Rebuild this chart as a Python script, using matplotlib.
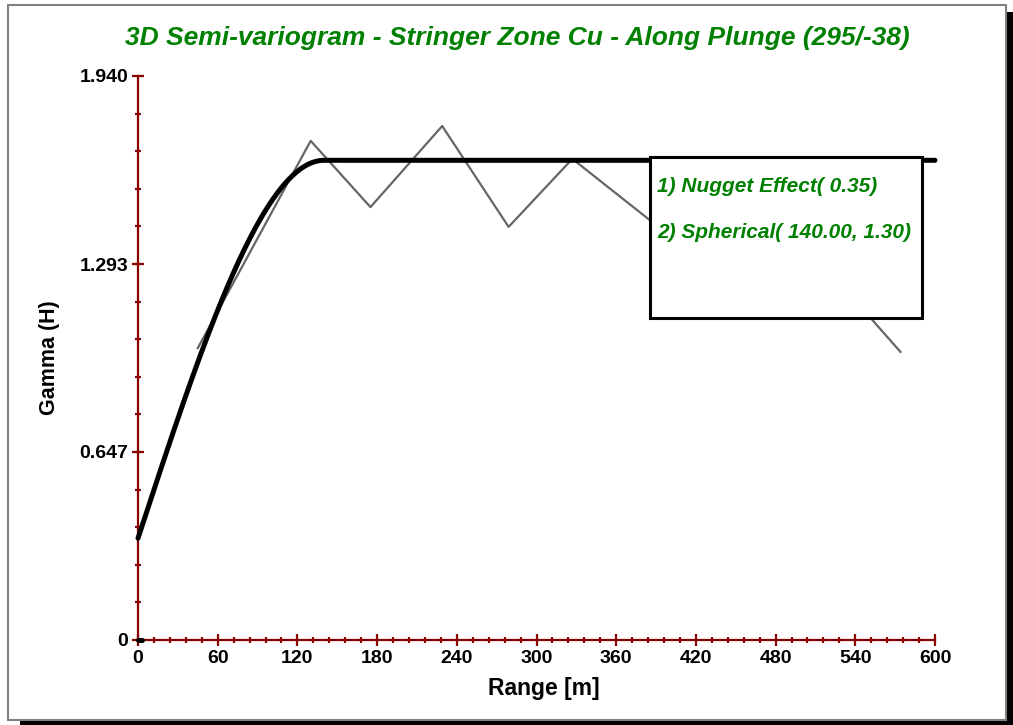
import matplotlib
matplotlib.use("Agg")
import matplotlib.pyplot as plt
import numpy as np
from matplotlib.patches import Rectangle
from matplotlib.ticker import FixedLocator

W, H = 1013, 725

# experimental semi-variogram (lag [m], gamma)
exp_lag = [45, 130, 175, 229, 279, 327, 392, 435, 480, 526, 574]
exp_gamma = [1.004, 1.717, 1.489, 1.768, 1.421, 1.655, 1.42, 1.55, 1.38, 1.24, 0.991]

# model parameters
NUGGET = 0.35
SPH_RANGE = 140.0
SPH_SILL = 1.30

y_ticks = [0, 0.647, 1.293, 1.940]
y_labels = ["0", "0.647", "1.293", "1.940"]
x_ticks = [0, 60, 120, 180, 240, 300, 360, 420, 480, 540, 600]

AXIS_RED = "#8b0000"
GREEN = "#008000"
FONT = ["Liberation Sans", "DejaVu Sans"]


def fx(px):
    return px / W


def fy(py):
    return 1 - py / H


def spherical(h):
    h = np.asarray(h, dtype=float)
    r = np.clip(h / SPH_RANGE, 0, 1)
    return NUGGET + SPH_SILL * (1.5 * r - 0.5 * r ** 3)


fig = plt.figure(figsize=(W / 100, H / 100), dpi=100)

# outer frame with drop shadow
fig.patches.append(Rectangle((fx(20), 0), fx(1013) - fx(20), fy(12),
                             transform=fig.transFigure, facecolor="black",
                             edgecolor="none", zorder=-3))
fig.patches.append(Rectangle((fx(8), fy(720)), fx(1006) - fx(8), fy(5) - fy(720),
                             transform=fig.transFigure, facecolor="white",
                             edgecolor="#808080", linewidth=1.5, zorder=-2))

ax = fig.add_axes([fx(138), fy(640), fx(935) - fx(138), fy(76) - fy(640)])
ax.set_facecolor("none")
ax.set_xlim(0, 600)
ax.set_ylim(0, 1.94)

for side in ("top", "right"):
    ax.spines[side].set_visible(False)
for side in ("left", "bottom"):
    ax.spines[side].set_color(AXIS_RED)
    ax.spines[side].set_linewidth(1.6)

ax.set_xticks(x_ticks)
ax.set_xticklabels([str(v) for v in x_ticks])
ax.set_yticks(y_ticks)
ax.set_yticklabels(y_labels)
ax.xaxis.set_minor_locator(FixedLocator(np.arange(0, 601, 12)))
ax.yaxis.set_minor_locator(FixedLocator(np.linspace(0, 1.94, 16)))
ax.tick_params(which="major", direction="inout", length=8, width=1.6,
               color=AXIS_RED, pad=3)
ax.tick_params(which="minor", direction="inout", length=4.5, width=1.6,
               color=AXIS_RED)
for lab in ax.get_xticklabels() + ax.get_yticklabels():
    lab.set_fontfamily(FONT)
    lab.set_fontweight("bold")
    lab.set_fontsize(14)

fig.text(fx(544), fy(688), "Range [m]", ha="center", va="center",
         fontsize=16.5, fontweight="bold", family=FONT)
fig.text(fx(50), fy(358), "Gamma (H)", ha="center", va="center", rotation=90,
         fontsize=15.5, fontweight="bold", family=FONT)

# experimental curve
ax.plot(exp_lag, exp_gamma, color="#666666", linewidth=1.6, clip_on=False, zorder=2)

# model curve
h = np.linspace(0, 600, 601)
ax.plot(h, spherical(h), color="black", linewidth=3.6, solid_capstyle="round",
        clip_on=False, zorder=3)
ax.plot([0, 3], [0, 0], color="black", linewidth=3.6, solid_capstyle="round",
        clip_on=False, zorder=3)

# title
fig.text(fx(517), fy(38), "3D Semi-variogram - Stringer Zone Cu - Along Plunge (295/-38)",
         ha="center", va="center", color=GREEN, fontsize=19, fontweight="bold",
         fontstyle="italic", family=FONT)

# model legend box
fig.patches.append(Rectangle((fx(650), fy(318)), fx(922) - fx(650), fy(157) - fy(318),
                             transform=fig.transFigure, facecolor="white",
                             edgecolor="black", linewidth=2.2, zorder=5))
fig.text(fx(657), fy(186), f"1) Nugget Effect( {NUGGET:.2f})", ha="left", va="center",
         color=GREEN, fontsize=15, fontweight="bold", fontstyle="italic",
         family=FONT, zorder=6)
fig.text(fx(657), fy(233), f"2) Spherical( {SPH_RANGE:.2f}, {SPH_SILL:.2f})",
         ha="left", va="center", color=GREEN, fontsize=15, fontweight="bold",
         fontstyle="italic", family=FONT, zorder=6)

fig.savefig("out.png", dpi=100)
